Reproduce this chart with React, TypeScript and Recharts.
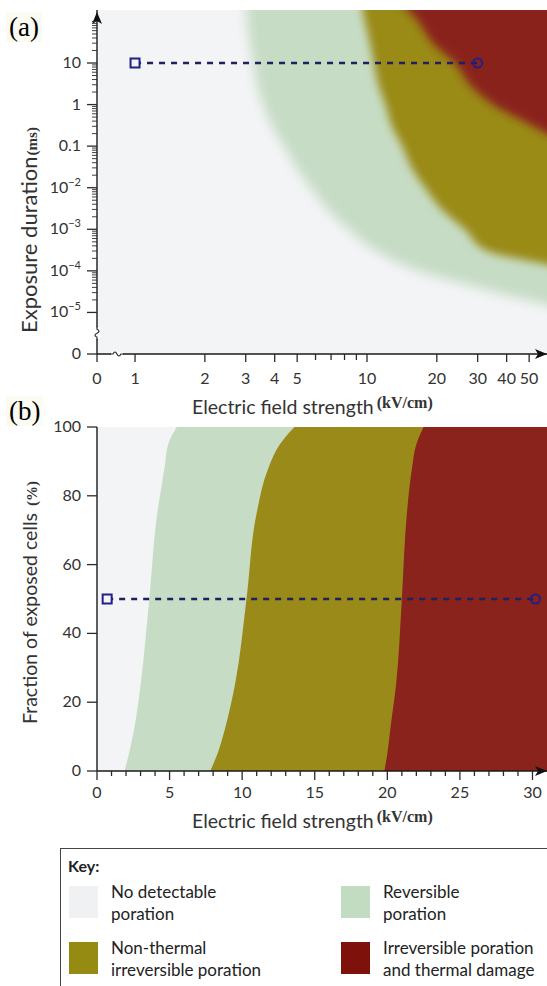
import React from "react";
import {
  AreaChart,
  Area,
  XAxis,
  YAxis,
  CartesianGrid,
  ReferenceLine,
  ReferenceDot,
} from "recharts";

const SANS = "Lato, 'Open Sans', sans-serif";
const SERIF = "'Liberation Serif', 'DejaVu Serif', serif";
const INK = "#2a2a2a";

const GREY = "#f3f4f6";
const GREEN = "#c6dcc5";
const OLIVE = "#9a8a19";
const RED = "#8a231b";
const NAVY = "#1e2060";

// (a) exposure duration levels in ms (1e-6 stands for the "0" under the axis break)
const durationMsA = [300, 100, 30, 10, 3, 1, 0.3, 0.1, 0.03, 0.01, 0.003, 0.001, 3e-4, 1e-4, 3e-5, 1e-5, 1e-6];
// field strength (kV/cm) where each zone starts at that duration; 70 = past the right edge
const reversibleA = [3.0, 3.04, 3.13, 3.23, 3.36, 3.56, 3.9, 4.38, 4.97, 5.73, 6.76, 8.32, 10.96, 16.6, 36, 70, 70];
const irreversibleA = [9.4, 9.8, 10.3, 10.7, 11.2, 12.0, 12.8, 14.2, 15.6, 17.8, 21.0, 26.4, 33, 70, 70, 70, 70];
const thermalA = [13.8, 16.6, 19.2, 23.9, 27.8, 34.9, 52, 70, 70, 70, 70, 70, 70, 70, 70, 70, 70];

const fieldTicksA = [0, 1, 2, 3, 4, 5, 6, 7, 8, 9, 10, 20, 30, 40, 50];
const fieldLabelsA = ["0", "1", "2", "3", "4", "5", "", "", "", "", "10", "20", "30", "40", "50"];
const durationTicksA = [1e-6, 1e-5, 1e-4, 1e-3, 1e-2, 0.1, 1, 10];
const durationLabelsA = ["0", "10^−5", "10^−4", "10^−3", "10^−2", "0.1", "1", "10"];
const minorStepsA = [2, 3, 4, 5, 6, 7, 8, 9];
const pulseFieldA = [1, 30];
const pulseDurationA = 10;

// (b) fraction of exposed cells (%) against field strength (kV/cm)
const fractionB = [0, 5, 12, 25, 50, 75, 88, 95, 100];
const reversibleB = [1.9, 2.2, 2.55, 3.0, 3.6, 4.15, 4.65, 4.9, 5.5];
const irreversibleB = [7.8, 8.3, 8.8, 9.5, 10.3, 11.0, 11.8, 12.6, 13.6];
const thermalB = [19.8, 20.0, 20.2, 20.6, 21.0, 21.35, 21.7, 22.0, 22.5];
const fieldLabelsB = [0, 5, 10, 15, 20, 25, 30];
const fractionLabelsB = [0, 20, 40, 60, 80, 100];
const pulseFieldB = [0.7, 30.2];
const pulseFractionB = 50;

// log axes of (a); the "0" of each axis sits just before the break
const U0 = -0.164;
const UMAX = 1.776;
const V0 = -6;
const VMAX = 2.275;
const toU = (e: number) => (e === 0 ? U0 : Math.log10(e));
const toV = (t: number) => Math.log10(t);

const rowsA = durationMsA.map((t, i) => ({
  v: toV(t),
  green: toU(reversibleA[i]),
  olive: toU(irreversibleA[i]),
  red: toU(thermalA[i]),
}));

const rowsB = fractionB.map((p, i) => ({
  p,
  green: reversibleB[i],
  olive: irreversibleB[i],
  red: thermalB[i],
}));

const minorTicksA = [1e-5, 1e-4, 1e-3, 1e-2, 0.1, 1, 10]
  .flatMap((d) => minorStepsA.map((k) => Math.log10(k * d)))
  .concat([2]);
const yTicksA = durationTicksA.map(toV).concat(minorTicksA);
const xTicksA = fieldTicksA.map(toU);
const xTicksB = Array.from({ length: 31 }, (_, i) => i);

const tickText = { fontFamily: SANS, fontSize: 16, fill: "#333" };

function FieldTickA(props: any) {
  const { x, y, payload } = props;
  const i = fieldTicksA.findIndex((f) => Math.abs(toU(f) - payload.value) < 1e-6);
  const label = i >= 0 ? fieldLabelsA[i] : "";
  return (
    <g>
      <line x1={x} x2={x} y1={y} y2={y + (label ? 8 : 6)} stroke={INK} strokeWidth={1.3} />
      {label && (
        <text x={x} y={y + 30} textAnchor="middle" {...tickText}>
          {label}
        </text>
      )}
    </g>
  );
}

function DurationTickA(props: any) {
  const { x, y, payload } = props;
  const i = durationTicksA.findIndex((t) => Math.abs(toV(t) - payload.value) < 1e-6);
  if (i < 0) return <line x1={x - 5} x2={x} y1={y} y2={y} stroke={INK} strokeWidth={0.9} />;
  const [base, exp] = durationLabelsA[i].split("^");
  return (
    <g>
      <line x1={x - 10} x2={x} y1={y} y2={y} stroke={INK} strokeWidth={1.3} />
      <text x={x - 16} y={y + 5} textAnchor="end" {...tickText}>
        {base}
        {exp && (
          <tspan dy={-7} fontSize={11}>
            {exp}
          </tspan>
        )}
      </text>
    </g>
  );
}

function FieldTickB(props: any) {
  const { x, y, payload } = props;
  const major = fieldLabelsB.includes(payload.value);
  return (
    <g>
      <line x1={x} x2={x} y1={y} y2={y + (major ? 9 : 5)} stroke={INK} strokeWidth={1.3} />
      {major && (
        <text x={x} y={y + 27} textAnchor="middle" {...tickText}>
          {payload.value}
        </text>
      )}
    </g>
  );
}

function FractionTickB(props: any) {
  const { x, y, payload } = props;
  return (
    <g>
      <line x1={x - 10} x2={x} y1={y} y2={y} stroke={INK} strokeWidth={1.3} />
      <text x={x - 16} y={y + 5} textAnchor="end" {...tickText}>
        {payload.value}
      </text>
    </g>
  );
}

const arrowRight = ({ cx, cy }: any) => (
  <path d={`M${cx - 12},${cy - 5} L${cx},${cy} L${cx - 12},${cy + 5} L${cx - 9},${cy} Z`} fill="#111" />
);
const arrowUp = ({ cx, cy }: any) => (
  <path d={`M${cx - 5},${cy + 14} L${cx},${cy + 2} L${cx + 5},${cy + 14} L${cx},${cy + 11} Z`} fill="#111" />
);
const breakY = ({ cx, cy }: any) => (
  <g>
    <rect x={cx - 3} y={cy - 6} width={6} height={12} fill="#fff" />
    <path
      d={`M${cx},${cy - 7} L${cx},${cy - 4} Q${cx + 4},${cy - 2} ${cx},${cy} Q${cx - 4},${cy + 2} ${cx},${cy + 4} L${cx},${cy + 7}`}
      fill="none"
      stroke={INK}
      strokeWidth={1.2}
    />
  </g>
);
const breakX = ({ cx, cy }: any) => (
  <g>
    <rect x={cx - 6} y={cy - 2} width={12} height={4} fill="#fff" />
    <path
      d={`M${cx - 7},${cy} L${cx - 4},${cy} Q${cx - 2},${cy - 4} ${cx},${cy} Q${cx + 2},${cy + 4} ${cx + 4},${cy} L${cx + 7},${cy}`}
      fill="none"
      stroke={INK}
      strokeWidth={1.2}
    />
  </g>
);
const squareMark = ({ cx, cy }: any) => (
  <rect x={cx - 4.5} y={cy - 4.5} width={9} height={9} fill={GREY} stroke="#231f86" strokeWidth={2} />
);
const circleMark = ({ cx, cy }: any) => (
  <circle cx={cx} cy={cy} r={4.5} fill="none" stroke="#231f86" strokeWidth={2} />
);

const axisLine = { stroke: "#1a1a1a", strokeWidth: 1.4 };

function PanelA() {
  return (
    <AreaChart
      width={547}
      height={420}
      data={rowsA}
      layout="vertical"
      margin={{ top: 10, right: 0, bottom: 0, left: 37 }}
    >
      <defs>
        <filter id="softGreen" x="-20%" y="-20%" width="140%" height="140%">
          <feGaussianBlur stdDeviation="6" />
        </filter>
        <filter id="softA" x="-20%" y="-20%" width="140%" height="140%">
          <feGaussianBlur stdDeviation="4" />
        </filter>
      </defs>
      <CartesianGrid horizontal={false} vertical={false} fill={GREY} />
      <Area type="monotone" dataKey="green" stroke="none" fill={GREEN} fillOpacity={1} baseValue={toU(70)} filter="url(#softGreen)" dot={false} activeDot={false} isAnimationActive={false} />
      <Area type="monotone" dataKey="olive" stroke="none" fill={OLIVE} fillOpacity={1} baseValue={toU(70)} filter="url(#softA)" dot={false} activeDot={false} isAnimationActive={false} />
      <Area type="monotone" dataKey="red" stroke="none" fill={RED} fillOpacity={1} baseValue={toU(70)} filter="url(#softA)" dot={false} activeDot={false} isAnimationActive={false} />
      <XAxis
        type="number"
        domain={[U0, UMAX]}
        allowDataOverflow
        ticks={xTicksA}
        interval={0}
        tickSize={0}
        tickMargin={0}
        tickLine={false}
        axisLine={axisLine}
        tick={FieldTickA}
        height={66}
      />
      <YAxis
        type="number"
        dataKey="v"
        domain={[V0, VMAX]}
        reversed
        allowDataOverflow
        ticks={yTicksA}
        interval={0}
        tickSize={0}
        tickMargin={0}
        tickLine={false}
        axisLine={axisLine}
        tick={DurationTickA}
        width={60}
      />
      <ReferenceLine
        segment={[
          { x: toU(pulseFieldA[0]), y: toV(pulseDurationA) },
          { x: toU(pulseFieldA[1]), y: toV(pulseDurationA) },
        ]}
        stroke={NAVY}
        strokeWidth={2.5}
        strokeDasharray="6 6"
        ifOverflow="visible"
      />
      <ReferenceDot x={toU(pulseFieldA[0])} y={toV(pulseDurationA)} shape={squareMark} ifOverflow="visible" />
      <ReferenceDot x={toU(pulseFieldA[1])} y={toV(pulseDurationA)} shape={circleMark} ifOverflow="visible" />
      <ReferenceDot x={UMAX} y={V0} shape={arrowRight} ifOverflow="visible" />
      <ReferenceDot x={U0} y={VMAX} shape={arrowUp} ifOverflow="visible" />
      <ReferenceDot x={U0} y={-5.5} shape={breakY} ifOverflow="visible" />
      <ReferenceDot x={-0.078} y={V0} shape={breakX} ifOverflow="visible" />
      <text x={192} y={414} fontFamily={SANS} fontSize={19.5} fill="#333">
        Electric field strength
        <tspan dx={3} dy={-6} fontFamily={SERIF} fontWeight="bold" fontSize={16}>
          (kV/cm)
        </tspan>
      </text>
      <text transform="translate(37, 333) rotate(-90)" fontFamily={SANS} fontSize={22} fill="#333">
        Exposure duration
        <tspan dx={1} fontFamily={SERIF} fontWeight="bold" fontSize={15}>
          (ms)
        </tspan>
      </text>
    </AreaChart>
  );
}

function PanelB() {
  return (
    <AreaChart
      width={547}
      height={440}
      data={rowsB}
      layout="vertical"
      margin={{ top: 27, right: 0, bottom: 0, left: 37 }}
    >
      <CartesianGrid horizontal={false} vertical={false} fill={GREY} />
      <Area type="monotone" dataKey="green" stroke="none" fill={GREEN} fillOpacity={1} baseValue={31} dot={false} activeDot={false} isAnimationActive={false} />
      <Area type="monotone" dataKey="olive" stroke="none" fill={OLIVE} fillOpacity={1} baseValue={31} dot={false} activeDot={false} isAnimationActive={false} />
      <Area type="monotone" dataKey="red" stroke="none" fill={RED} fillOpacity={1} baseValue={31} dot={false} activeDot={false} isAnimationActive={false} />
      <XAxis
        type="number"
        domain={[0, 31]}
        allowDataOverflow
        ticks={xTicksB}
        interval={0}
        tickSize={0}
        tickMargin={0}
        tickLine={false}
        axisLine={axisLine}
        tick={FieldTickB}
        height={69}
      />
      <YAxis
        type="number"
        dataKey="p"
        domain={[0, 100]}
        reversed
        allowDataOverflow
        ticks={fractionLabelsB}
        interval={0}
        tickSize={0}
        tickMargin={0}
        tickLine={false}
        axisLine={axisLine}
        tick={FractionTickB}
        width={60}
      />
      <ReferenceLine
        segment={[
          { x: pulseFieldB[0], y: pulseFractionB },
          { x: pulseFieldB[1], y: pulseFractionB },
        ]}
        stroke={NAVY}
        strokeWidth={2.5}
        strokeDasharray="6 6"
        ifOverflow="visible"
      />
      <ReferenceDot x={pulseFieldB[0]} y={pulseFractionB} shape={squareMark} ifOverflow="visible" />
      <ReferenceDot x={pulseFieldB[1]} y={pulseFractionB} shape={circleMark} ifOverflow="visible" />
      <ReferenceDot x={31} y={0} shape={arrowRight} ifOverflow="visible" />
      <text x={192} y={428} fontFamily={SANS} fontSize={19.5} fill="#333">
        Electric field strength
        <tspan dx={3} dy={-6} fontFamily={SERIF} fontWeight="bold" fontSize={16}>
          (kV/cm)
        </tspan>
      </text>
      <text transform="translate(37, 324) rotate(-90)" fontFamily={SANS} fontSize={19.5} fill="#333">
        Fraction of exposed cells
        <tspan dx={7} fontFamily={SERIF} fontWeight="bold" fontSize={15}>
          (%)
        </tspan>
      </text>
    </AreaChart>
  );
}

const keyItems = [
  { color: "#f0f1f3", lines: ["No detectable", "poration"], left: 8, top: 37 },
  { color: "#c2dcc2", lines: ["Reversible", "poration"], left: 280, top: 37 },
  { color: "#958a12", lines: ["Non-thermal", "irreversible poration"], left: 8, top: 93 },
  { color: "#7f110b", lines: ["Irreversible poration", "and thermal damage"], left: 280, top: 93 },
];

function Key() {
  return (
    <div
      style={{
        position: "absolute",
        left: 60,
        top: 848,
        width: 500,
        height: 150,
        border: "1.5px solid #444",
        boxSizing: "border-box",
        background: "#fff",
        fontFamily: SANS,
        color: "#222",
      }}
    >
      <div style={{ position: "absolute", left: 7, top: 7, fontWeight: "bold", fontSize: 16 }}>Key:</div>
      {keyItems.map((k) => (
        <React.Fragment key={k.lines[0]}>
          <div
            style={{
              position: "absolute",
              left: k.left,
              top: k.top,
              width: 29,
              height: 32,
              background: k.color,
            }}
          />
          <div
            style={{
              position: "absolute",
              left: k.left + 42,
              top: k.top - 5,
              fontSize: 17,
              lineHeight: "22px",
            }}
          >
            {k.lines[0]}
            <br />
            {k.lines[1]}
          </div>
        </React.Fragment>
      ))}
    </div>
  );
}

const panelLabel: React.CSSProperties = {
  position: "absolute",
  left: 6,
  fontFamily: SERIF,
  fontSize: 27,
  lineHeight: "30px",
  background: "#fcfbf1",
  padding: "0 3px",
};

export default function App() {
  return (
    <div
      style={{
        position: "absolute",
        left: 0,
        top: 0,
        width: 547,
        height: 986,
        overflow: "hidden",
        background: "#fff",
      }}
    >
      <div style={{ position: "absolute", left: 0, top: 0 }}>
        <PanelA />
      </div>
      <div style={{ position: "absolute", left: 0, top: 400 }}>
        <PanelB />
      </div>
      <div style={{ ...panelLabel, top: 12 }}>(a)</div>
      <div style={{ ...panelLabel, top: 396 }}>(b)</div>
      <Key />
    </div>
  );
}
